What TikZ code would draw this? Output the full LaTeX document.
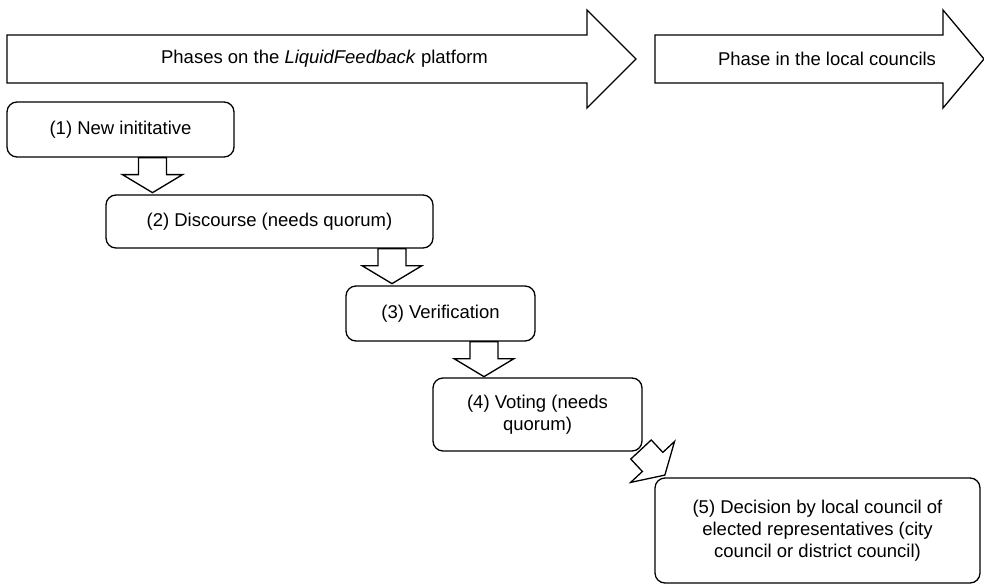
\documentclass[tikz,border=0pt]{standalone}
\usepackage{fontspec}
\setmainfont{Liberation Sans}
\usetikzlibrary{positioning}

\tikzset{
    phase/.style={draw, rounded corners=10pt, line width=1.3pt, align=center, inner sep=0pt},
    bigarrow/.style={draw, line width=1.3pt, fill=white},
}
% block arrow: #1 = tail centre, #2 = direction angle
\newcommand{\blockarrow}[2]{%
    \draw [bigarrow, shift={(#1)}, rotate=#2] (0,-14) -- (17,-14) -- (17,-30) -- (35,0)
        -- (17,30) -- (17,14) -- (0,14) -- cycle;}

\begin{document}
\begin{tikzpicture}[x=1pt, y=-1pt, font=\fontsize{18.5}{22}\selectfont]
    \useasboundingbox (0,0) rectangle (984,585);
    % phase arrows at the top
    \draw [bigarrow] (7,35) -- (587,35) -- (587,10) -- (636,59) -- (587,108) -- (587,83) -- (7,83) -- cycle;
    \node (platform) at (324.5,59) {Phases on the \textit{LiquidFeedback} platform};
    \draw [bigarrow] (655,35) -- (943,35) -- (943,10) -- (984,59) -- (943,108) -- (943,83) -- (655,83) -- cycle;
    \node (councils) at (827,59) {Phase in the local councils};
    % the five phases
    \node [phase, minimum width=227pt, minimum height=55pt] (new) at (120.5,129.5) {(1) New inititative};
    \node [phase, minimum width=327pt, minimum height=53pt] (discourse) at (269.5,221.5) {(2) Discourse (needs quorum)};
    \node [phase, minimum width=189pt, minimum height=55pt] (verification) at (440.5,313.5) {(3) Verification};
    \node [phase, minimum width=209pt, minimum height=73pt] (voting) at (537.5,414.5) {(4) Voting (needs\\quorum)};
    \node [phase, minimum width=325pt, minimum height=105pt] (decision) at (817.5,530.5) {(5) Decision by local council of\\elected representatives (city\\council or district council)};
    % arrows between the phases
    \coordinate (a1) at (new.south -| 152.5,0);
    \coordinate (a2) at (discourse.south -| 392,0);
    \coordinate (a3) at (verification.south -| 484,0);
    \coordinate (a4) at (641,449.5);
    \blockarrow{a1}{-90}
    \blockarrow{a2}{-90}
    \blockarrow{a3}{-90}
    \blockarrow{a4}{-47}
\end{tikzpicture}
\end{document}
